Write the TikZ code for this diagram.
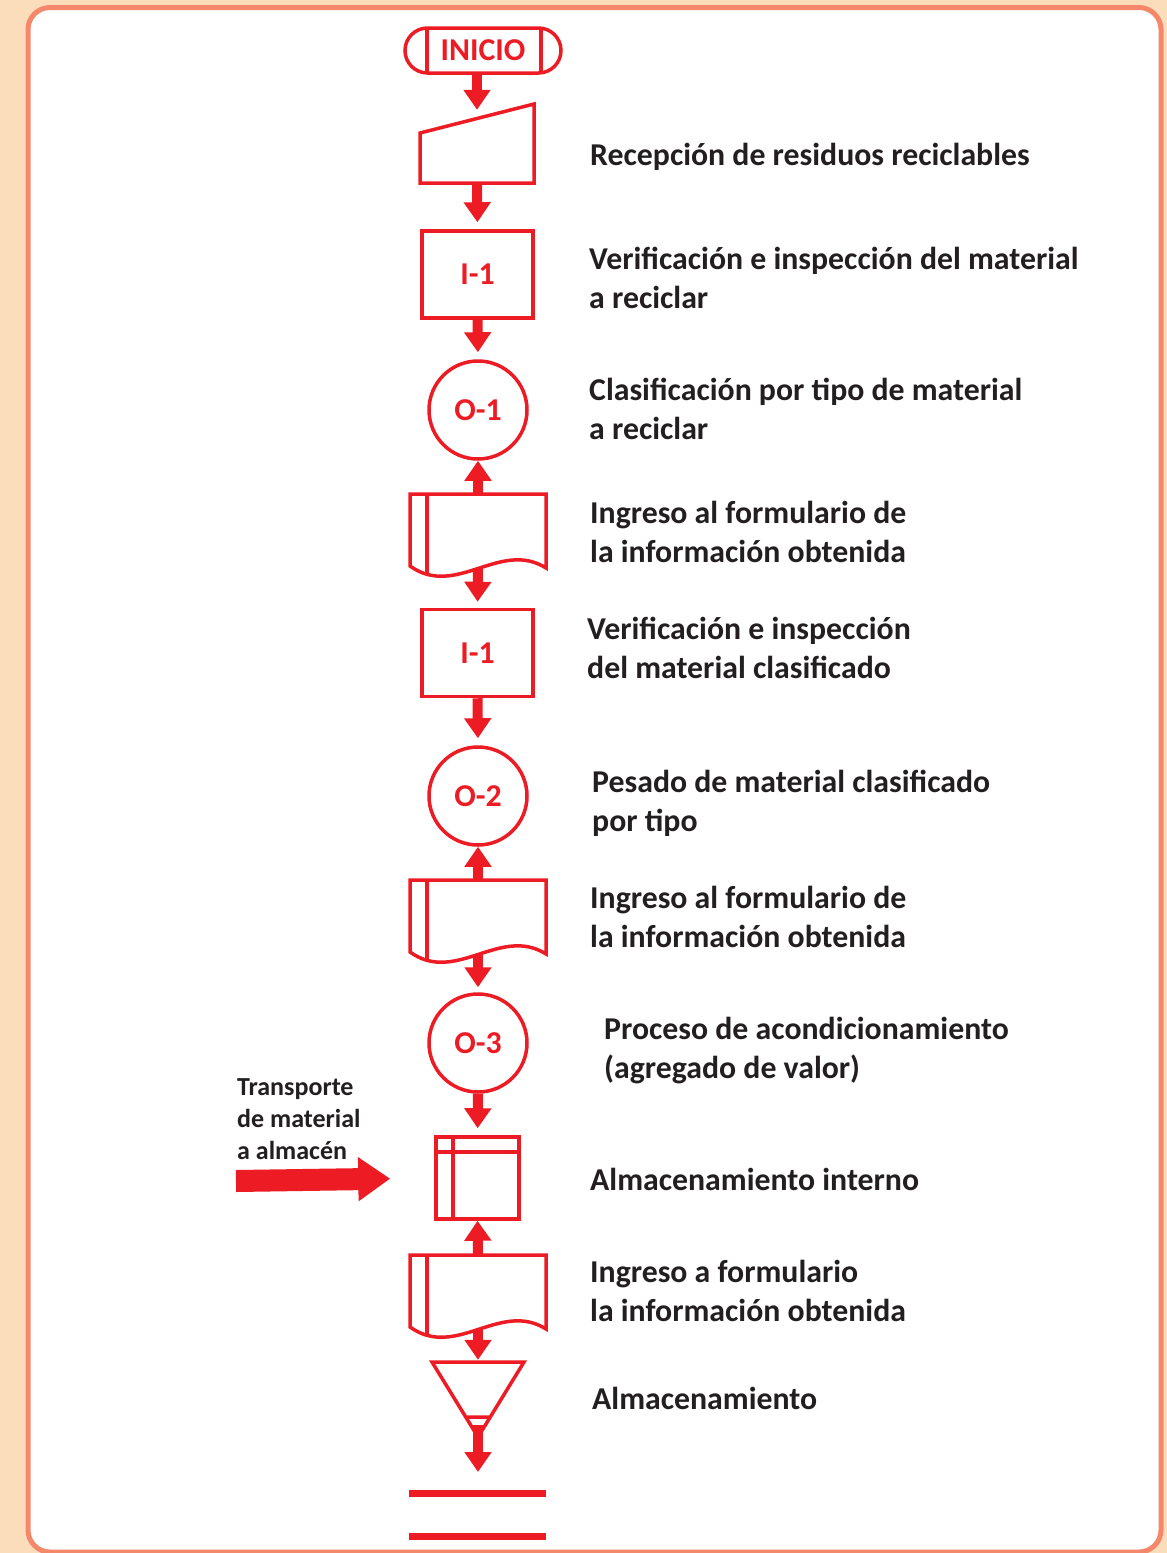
\documentclass[tikz,border=0pt]{standalone}
\usepackage{fontspec}
\setmainfont{Carlito}
\usetikzlibrary{arrows.meta,shapes.misc}
\definecolor{rojo}{HTML}{ED1C24}
\definecolor{negro}{HTML}{231F20}
\definecolor{durazno}{HTML}{FCDDBB}
\definecolor{salmon}{HTML}{F5886B}
\newcommand{\letra}{\bfseries\fontsize{31.8}{39}\selectfont}
\newcommand{\documento}[3]{%
  \node[vacio,minimum width=136pt,minimum height=74pt] (#1) at (#2+68,#3+37) {};
  \draw[forma] (#2,#3+72)--(#2,#3)--(#2+136,#3)--(#2+136,#3+74)
    .. controls (#2+90,#3+45) and (#2+46,#3+105) .. (#2,#3+72)--cycle;
  \draw[forma] (#2+17,#3)--(#2+17,#3+79);}
\tikzset{forma/.style={draw=rojo,line width=3.5pt},vacio/.style={inner sep=0pt},
flecha/.style={rojo,line width=10pt,-{Triangle[width=26pt,length=20pt]}},
flechagrande/.style={rojo,line width=22pt,-{Triangle[width=42pt,length=32pt]}},
paso/.style={forma,inner sep=0pt,minimum width=111pt,minimum height=87pt,text=rojo,font=\letra},
oper/.style={forma,circle,inner sep=0pt,minimum size=98pt,text=rojo,font=\letra},
texto/.style={anchor=base west,inner sep=0pt,align=left,text=negro,font=\letra}}

\begin{document}
\begin{tikzpicture}[x=1pt,y=-1pt]
\useasboundingbox (0,0) rectangle (1167,1553);
\fill[durazno] (0,0) rectangle (1167,1553);
\draw[salmon,line width=5pt,fill=white,rounded corners=22pt] (28,7.5) rectangle (1161,1552);

\node[forma,rounded rectangle,inner sep=0pt,minimum width=156pt,minimum height=45pt,text=rojo,font=\letra] (inicio) at (483,50.5) {INICIO};
\draw[forma] (427,28)--(427,73) (541,28)--(541,73);
\node[vacio,minimum width=114pt,minimum height=79pt] (rec) at (477,143.5) {};
\draw[forma] (420,133)--(534,104)--(534,183)--(420,183)--cycle;
\node[paso] (i1) at (477.5,274.5) {I-1};
\node[oper] (o1) at (478,410) {O-1};
\documento{d1}{410}{494}
\node[paso] (i2) at (477.5,653) {I-1};
\node[oper] (o2) at (478,796) {O-2};
\documento{d2}{410}{880}
\node[oper] (o3) at (478,1043) {O-3};
\node[forma,minimum width=83pt,minimum height=82pt] (almi) at (477.5,1178) {};
\draw[forma] (436,1152)--(519,1152) (453,1137)--(453,1219);
\documento{d3}{410}{1255}
\node[vacio,minimum width=92pt,minimum height=75pt] (alm) at (478,1399.5) {};
\draw[forma] (432,1362)--(524,1362)--(478,1437)--cycle (466,1417)--(490,1417);
\coordinate (fin) at (478,1472);
\coordinate (transp) at (236,1181);
\draw[rojo,line width=7pt] (409,1493)--(546,1493) (409,1536)--(546,1536);

\draw[flecha] (inicio.south -| rec.north)--([yshift=-6pt]rec.north);
\draw[flecha,shorten >=7pt] (rec.south)--(i1.north);
\draw[flecha,shorten >=7pt] (i1.south)--(o1.north);
\draw[flecha] (d1.north)--(o1.south);
\draw[flecha,shorten >=6pt] (d1.south)--(i2.north);
\draw[flecha,shorten >=7pt] (i2.south)--(o2.north);
\draw[flecha] (d2.north)--(o2.south);
\draw[flecha,shorten >=5pt] (d2.south)--(o3.north);
\draw[flecha,shorten >=7pt] (o3.south)--(almi.north);
\draw[flecha] (d3.north)--(almi.south);
\draw[flecha,shorten >=2pt] (d3.south)--(alm.north);
\draw[flecha] ([yshift=12pt]alm.south)--(fin);
\draw[flechagrande,shorten >=44pt] (transp)--(almi.west);

\node[texto] (t1) at (590,165) {Recepción de residuos reciclables};
\node[texto] (t2) at (589,308) {Verificación e inspección del material\\a reciclar};
\node[texto] (t3) at (589,439) {Clasificación por tipo de material\\a reciclar};
\node[texto] (t4) at (590,562) {Ingreso al formulario de\\la información obtenida};
\node[texto] (t5) at (587,678) {Verificación e inspección\\del material clasificado};
\node[texto] (t6) at (592,831) {Pesado de material clasificado\\por tipo};
\node[texto] (t7) at (590,947) {Ingreso al formulario de\\la información obtenida};
\node[texto] (t8) at (604,1078) {Proceso de acondicionamiento\\(agregado de valor)};
\node[texto] (t9) at (590,1190) {Almacenamiento interno};
\node[texto] (t10) at (590,1321) {Ingreso a formulario\\la información obtenida};
\node[texto] (t11) at (592,1409) {Almacenamiento};
\node[texto,font=\bfseries\fontsize{26}{32}\selectfont] (t12) at (237,1159) {Transporte\\de material\\a almacén};
\end{tikzpicture}
\end{document}
